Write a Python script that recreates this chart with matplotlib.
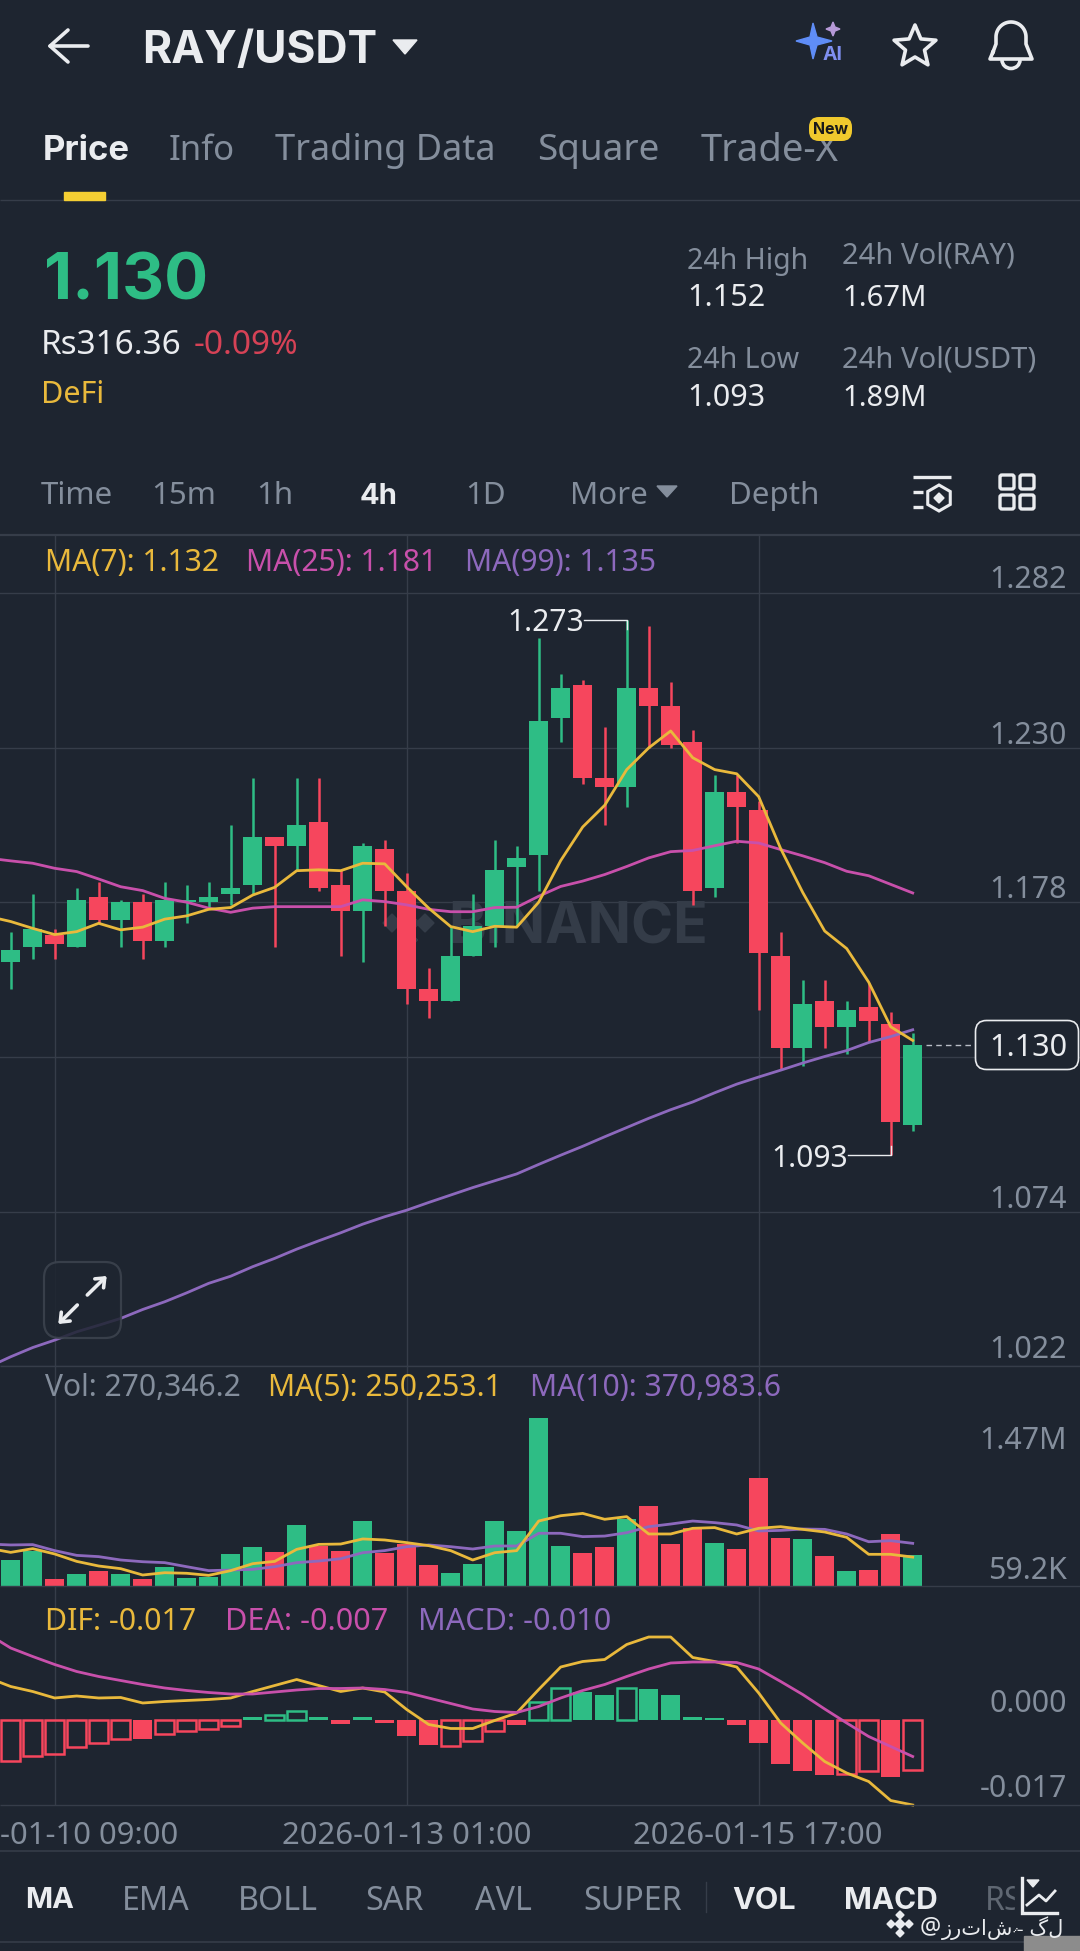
import numpy as np
import matplotlib
matplotlib.use('Agg')
import matplotlib.pyplot as plt
from matplotlib import font_manager, ft2font
from matplotlib.patches import FancyBboxPatch, Polygon, Rectangle, Arc

# Candles, oldest first (4h)
opens = [1.158, 1.163, 1.167, 1.163, 1.180, 1.172, 1.178, 1.165, 1.178, 1.178, 1.181, 1.184, 1.200, 1.197,
         1.205, 1.184, 1.175, 1.196, 1.182, 1.149, 1.145, 1.160, 1.170, 1.190, 1.194, 1.240, 1.251, 1.220,
         1.217, 1.250, 1.244, 1.232, 1.183, 1.215, 1.209, 1.160, 1.129, 1.145, 1.136, 1.143, 1.137, 1.103]
closes = [1.162, 1.169, 1.164, 1.179, 1.172, 1.178, 1.165, 1.179, 1.179, 1.180, 1.183, 1.200, 1.197, 1.204,
          1.183, 1.175, 1.197, 1.182, 1.149, 1.145, 1.160, 1.170, 1.189, 1.193, 1.239, 1.250, 1.220, 1.217,
          1.250, 1.244, 1.231, 1.182, 1.215, 1.210, 1.161, 1.129, 1.144, 1.136, 1.142, 1.138, 1.104, 1.130]
highs = [1.168, 1.181, 1.169, 1.183, 1.185, 1.179, 1.181, 1.185, 1.184, 1.185, 1.204, 1.220, 1.200, 1.220,
         1.220, 1.189, 1.198, 1.199, 1.188, 1.156, 1.170, 1.181, 1.199, 1.197, 1.267, 1.255, 1.253, 1.237,
         1.273, 1.271, 1.252, 1.236, 1.221, 1.221, 1.212, 1.168, 1.152, 1.152, 1.145, 1.151, 1.141, 1.134]
lows = [1.149, 1.159, 1.159, 1.163, 1.171, 1.163, 1.159, 1.163, 1.171, 1.176, 1.177, 1.181, 1.163, 1.189,
        1.182, 1.160, 1.158, 1.170, 1.144, 1.139, 1.145, 1.160, 1.163, 1.170, 1.182, 1.232, 1.218, 1.204,
        1.210, 1.230, 1.230, 1.177, 1.180, 1.198, 1.142, 1.122, 1.123, 1.129, 1.127, 1.131, 1.093, 1.101]

# Moving averages start one bar before the first visible candle
ma7 = [1.1733, 1.1716, 1.1693, 1.1672, 1.1682, 1.1710, 1.1688, 1.1697, 1.1724, 1.1735, 1.1757, 1.1763, 1.1805,
       1.1831, 1.1887, 1.1890, 1.1887, 1.1912, 1.1910, 1.1833, 1.1761, 1.1699, 1.1682, 1.1700, 1.1697, 1.1781,
       1.1921, 1.2034, 1.2107, 1.2227, 1.2300, 1.2357, 1.2267, 1.2227, 1.2213, 1.2136, 1.1961, 1.1814, 1.1684,
       1.1625, 1.1512, 1.1362, 1.1316]
ma25 = [1.1929, 1.1920, 1.1912, 1.1895, 1.1884, 1.1859, 1.1833, 1.1820, 1.1794, 1.1781, 1.1761, 1.1747, 1.1761,
        1.1766, 1.1766, 1.1766, 1.1766, 1.1789, 1.1783, 1.1772, 1.1757, 1.1749, 1.1749, 1.1763, 1.1764, 1.1801,
        1.1834, 1.1852, 1.1874, 1.1901, 1.1930, 1.1951, 1.1955, 1.1971, 1.1986, 1.1980, 1.1958, 1.1937, 1.1914,
        1.1885, 1.1870, 1.1841, 1.1812]
ma99 = [1.0218, 1.0252, 1.0283, 1.0308, 1.0336, 1.0358, 1.0381, 1.0411, 1.0437, 1.0467, 1.0499, 1.0523, 1.0555,
        1.0583, 1.0614, 1.0642, 1.0669, 1.0698, 1.0723, 1.0745, 1.0771, 1.0796, 1.0821, 1.0844, 1.0867, 1.0899,
        1.0930, 1.0960, 1.0992, 1.1023, 1.1054, 1.1083, 1.1109, 1.1140, 1.1169, 1.1193, 1.1216, 1.1240, 1.1262,
        1.1282, 1.1309, 1.1329, 1.1352]

# Volume in thousands
volume = [225, 303, 61, 107, 130, 107, 61, 164, 72, 78, 277, 337, 297, 528, 349, 300, 562, 283, 363, 179, 110,
          193, 565, 479, 1450, 343, 288, 334, 577, 692, 363, 499, 375, 317, 934, 415, 404, 259, 133, 136, 453, 270]
vol_ma5 = [326, 291, 323, 277, 213, 173, 150, 95, 115, 110, 92, 133, 193, 213, 317, 360, 363, 407, 398, 375, 349,
           306, 225, 288, 306, 562, 608, 628, 577, 600, 450, 450, 499, 505, 450, 499, 513, 490, 467, 421, 274, 274, 250]
vol_ma10 = [363, 355, 358, 306, 265, 254, 225, 210, 202, 167, 133, 138, 144, 167, 202, 216, 236, 288, 306, 340, 355,
            340, 320, 346, 346, 456, 456, 427, 432, 461, 513, 536, 562, 548, 528, 476, 481, 493, 490, 450, 383, 392, 369]

# MACD panel
dif = [.0084, .0067, .0057, .0044, .0048, .0044, .0045, .0034, .0037, .0039, .0041, .0044, .0057, .0069, .0081,
       .0069, .0057, .0064, .0056, .0021, -.0009, -.0017, -.0017, -.0001, .0014, .0061, .0106, .0117, .0121, .0151,
       .0166, .0166, .0125, .0117, .0106, .0054, -.0006, -.0046, -.0083, -.0106, -.0123, -.0161, -.0170]
dea = [.0171, .0144, .0127, .0111, .0097, .0087, .0079, .0071, .0064, .0059, .0055, .0052, .0052, .0056, .0060,
       .0063, .0063, .0064, .0061, .0055, .0044, .0033, .0022, .0017, .0015, .0027, .0044, .0059, .0071, .0087,
       .0102, .0114, .0116, .0116, .0115, .0102, .0077, .0051, .0022, -.0006, -.0033, -.0053, -.0073]
macd = [-.0081, -.0071, -.0068, -.0053, -.0046, -.0037, -.0037, -.0028, -.0022, -.0017, -.0012, .0007, .0011, .0019,
        .0007, -.0007, .0007, -.0006, -.0031, -.0049, -.0051, -.0041, -.0021, -.0009, .0037, .0065, .0057, .0051,
        .0065, .0063, .0051, .0007, .0005, -.0009, -.0046, -.0088, -.0101, -.0109, -.0107, -.0102, -.0113, -.0099]
macd_hollow = [0, 1, 2, 3, 4, 5, 7, 8, 9, 10, 12, 13, 20, 21, 22, 24, 25, 28, 38, 39, 41]

price_ticks = [1.282, 1.230, 1.178, 1.126, 1.074, 1.022]
grid_bars = [2, 18, 34]

bg = '#1e2530'
grid = '#363d49'
green = '#2ebd85'
red = '#f6465d'
yellow = '#e9b93c'
pink = '#c850ab'
purple = '#8d69bd'
gray = '#848e9c'
white = '#eaecef'

W, H = 1080, 1951
fig = plt.figure(figsize=(W / 100, H / 100), dpi=100, facecolor=bg)


def panel(top, bottom, zorder=1):
    ax = fig.add_axes([0, 1 - bottom / H, 1, (bottom - top) / H], facecolor='none', zorder=zorder)
    ax.set_xlim(-10.7 / 22, (W - 10.7) / 22)
    ax.axis('off')
    for b in grid_bars:
        ax.axvline(b, color=grid, lw=1, zorder=1)
    return ax


# one bar is 22 px wide, 1 price unit is 2973 px
ax_price = panel(535, 1366)
ax_price.set_ylim(1.282 - (1366 - 593.3) / 2973, 1.282 + (593.3 - 535) / 2973)
ax_vol = panel(1366, 1586)
ax_vol.set_ylim(0, 220 * 8.65)
ax_macd = panel(1586, 1805)
ax_macd.set_ylim(-0.017, 134 / 5000)

ui = fig.add_axes([0, 0, 1, 1], facecolor='none', zorder=5)
ui.set_xlim(0, W)
ui.set_ylim(H, 0)
ui.axis('off')


def txt(x, y, s, size=21.6, color=gray, ha='left', weight='normal', ax=None, **kw):
    # Noto Sans has no bold here, Inter has
    family = ['Inter', 'DejaVu Sans'] if weight == 'bold' else ['Noto Sans', 'DejaVu Sans']
    (ax or ui).text(x, y + 2, s, fontsize=size, color=color, ha=ha, va='center', family=family,
                    weight=weight, transform=ui.transData, **kw)


def hline(y, x0=0, x1=W, color=grid, lw=1.0):
    ui.plot([x0, x1], [y, y], color=color, lw=lw, solid_capstyle='butt')


# ----- price panel -----
idx = np.arange(42)
line_idx = np.arange(-1, 42)
o, c, hi, lo = map(np.array, (opens, closes, highs, lows))
colors = [green if c[i] >= o[i] else red for i in idx]

for p in price_ticks:
    ax_price.axhline(p, color=grid, lw=1, zorder=1)

# watermark sits below the candles
txt(448, 926.5, 'BINANCE', size=41, color='#343c48', weight='bold', ax=ax_price, zorder=1)
for cx, cy, r in [(392, 923, 9), (425, 923, 9), (408.5, 906, 9), (408.5, 940, 9), (408.5, 923, 11)]:
    ax_price.add_patch(Polygon([(cx - r, cy), (cx, cy - r), (cx + r, cy), (cx, cy + r)], color='#343c48',
                               transform=ui.transData, zorder=1))

ax_price.vlines(idx, lo, hi, colors=colors, lw=1.8, zorder=3)
ax_price.bar(idx, np.abs(c - o), bottom=np.minimum(o, c), width=0.89, color=colors, zorder=3)
ax_price.plot(line_idx, ma99, color=purple, lw=2, zorder=4)
ax_price.plot(line_idx, ma25, color=pink, lw=2, zorder=4)
ax_price.plot(line_idx, ma7, color=yellow, lw=2, zorder=5)

# high / low markers
ax_price.plot([28 - 1.95, 28, 28], [1.273, 1.273, 1.270], color=white, lw=1, zorder=6)
ax_price.plot([40 - 1.95, 40, 40], [1.093, 1.093, 1.096], color=white, lw=1, zorder=6)
txt(584, 621, '1.273', color=white, ha='right')
txt(848, 1157, '1.093', color=white, ha='right')

# last price tag
ax_price.plot([41.6, 43.9], [closes[-1], closes[-1]], color='#b9bec6', lw=1, ls=(0, (4, 3)), zorder=6)
ui.add_patch(FancyBboxPatch((979, 1024), 96, 42, boxstyle='round,pad=3.5,rounding_size=11', fc=bg, ec=white, lw=1.2,
                            zorder=3))
txt(1067, 1046, '1.130', size=22, color=white, ha='right', zorder=4)

# expand button
ui.add_patch(FancyBboxPatch((48, 1266), 69, 68, boxstyle='round,pad=4,rounding_size=16', fc=bg, ec='#3d444f', lw=1.6,
                            alpha=0.85))
for x0, y0, x1, y1 in [(87.3, 1295, 106.7, 1276), (77.3, 1305, 58.3, 1324)]:
    ui.annotate('', xy=(x1, y1), xytext=(x0, y0),
                arrowprops=dict(arrowstyle='->,head_length=0.55,head_width=0.45', color=white, lw=2.6, shrinkA=0,
                                shrinkB=0))

# ----- volume panel -----
ax_vol.bar(idx, volume, width=0.89, color=colors, zorder=3)
ax_vol.plot(line_idx, vol_ma10, color=purple, lw=2, zorder=4)
ax_vol.plot(line_idx, vol_ma5, color=yellow, lw=2, zorder=5)

# ----- macd panel -----
for i in idx:
    col = green if macd[i] > 0 else red
    if i in macd_hollow:
        ax_macd.bar(i, macd[i], width=0.87, fc='none', ec=col, lw=1.8, zorder=3)
    else:
        ax_macd.bar(i, macd[i], width=0.89, color=col, zorder=3)
ax_macd.plot(line_idx, dif, color=yellow, lw=2, zorder=4, clip_on=False)
ax_macd.plot(line_idx, dea, color=pink, lw=2, zorder=5)

# ----- panel lines -----
hline(200.5)
hline(535, lw=1.6)
hline(1366)
hline(1586)
hline(1805)
hline(1851, lw=1.2)
hline(1942, x1=1024, lw=1.2)

# ----- axis labels -----
for y, s in [(578.5, '1.282'), (734.5, '1.230'), (888.5, '1.178'), (1197.5, '1.074'), (1348.5, '1.022'),
             (1439, '1.47M'), (1569, '59.2K'), (1702, '0.000'), (1787, '-0.017')]:
    txt(1067, y, s, size=21.8, ha='right')
txt(0, 1833.5, '-01-10 09:00', size=22.3)
txt(407, 1833.5, '2026-01-13 01:00', size=22.3, ha='center')
txt(758, 1833.5, '2026-01-15 17:00', size=22.3, ha='center')

# ----- indicator legends -----
txt(45, 561, 'MA(7): 1.132', color=yellow)
txt(246, 561, 'MA(25): 1.181', color=pink)
txt(465, 561, 'MA(99): 1.135', color=purple)
txt(45, 1386, 'Vol: 270,346.2')
txt(268, 1386, 'MA(5): 250,253.1', color=yellow)
txt(530, 1386, 'MA(10): 370,983.6', color=purple)
txt(45, 1620, 'DIF: -0.017', size=21.8, color=yellow)
txt(225, 1620, 'DEA: -0.007', size=22, color=pink)
txt(418, 1620, 'MACD: -0.010', size=22, color=purple)

# ----- header -----
ui.plot([88, 50, 68], [46, 46, 30], color=white, lw=2.6, solid_capstyle='round', solid_joinstyle='round')
ui.plot([50, 68], [46, 62], color=white, lw=2.6, solid_capstyle='round')
txt(142, 49, 'RAY/USDT', size=32, color=white, weight='bold')
ui.add_patch(Polygon([(393, 40), (417, 40), (405, 54)], color=white))

# AI badge
ui.add_patch(Polygon([(796, 41), (810, 37), (813, 23), (817, 37), (832, 41), (817, 45), (813, 59), (810, 45)],
                     color='#5f8df7'))
ui.add_patch(Polygon([(826, 29), (831, 27), (833, 22), (835, 27), (840, 29), (835, 31), (833, 36), (831, 31)],
                     color='#b79ad8'))
txt(823, 53, 'AI', size=14, color='#7f8ff0', weight='bold')

# favourite star
a = np.pi / 2 + np.arange(10) * np.pi / 5
r = np.where(np.arange(10) % 2 == 0, 22, 10)
ui.add_patch(Polygon(np.c_[915 + r * np.cos(a), 47 - r * np.sin(a)], fc='none', ec=white, lw=2.6, joinstyle='round'))

# bell
t = np.linspace(np.pi, 0, 30)
bx = np.r_[993, 996, 1011 + 15 * np.cos(t), 1026, 1032, 990, 993]
by = np.r_[52, 44, 37 - 15 * np.sin(t), 44, 59, 59, 52]
ui.plot(bx, by, color=white, lw=2.6, solid_joinstyle='round')
ui.add_patch(Arc((1011, 60), 18, 17, theta1=0, theta2=180, color=white, lw=2.6))

# tabs
txt(43, 149, 'Price', size=25, color=white, weight='bold')
for x, s, size in [(169, 'Info', 25), (275, 'Trading Data', 26), (537, 'Square', 26.5), (701, 'Trade-X', 27.5)]:
    txt(x, 149, s, size=size)
ui.add_patch(Rectangle((64, 192), 41, 8, color='#f5cf33', zorder=3))
ui.add_patch(FancyBboxPatch((813, 121), 35, 16, boxstyle='round,pad=4,rounding_size=10', fc='#f0c92d', ec='none',
                            zorder=3))
txt(830.5, 127, 'New', size=11.5, color='#1a1a1a', ha='center', weight='bold', zorder=4)

# price block
txt(44, 280.5, '1.130', size=47, color=green, weight='bold')
txt(41, 344, 'Rs316.36', size=24, color=white)
txt(194, 344, '-0.09%', size=24, color='#d64256')
txt(41, 393, 'DeFi', size=22, color=yellow)
txt(687, 259, '24h High', size=20.5)
txt(687, 296, '1.152', size=22, color=white)
txt(687, 358, '24h Low', size=20.5)
txt(687, 396, '1.093', size=22, color=white)
txt(842, 254, '24h Vol(RAY)', size=21)
txt(842, 296, '1.67M', size=21, color=white)
txt(842, 358, '24h Vol(USDT)', size=21)
txt(842, 396, '1.89M', size=21, color=white)

# interval row
for x, s in [(41, 'Time'), (151, '15m'), (256, '1h'), (465, '1D'), (570, 'More'), (729, 'Depth')]:
    txt(x, 494, s, size=22.5)
txt(360, 494, '4h', size=21, color=white, weight='bold')
ui.add_patch(Polygon([(657, 486), (677, 486), (667, 497)], color=gray))

# indicator settings icon
ui.plot([913, 951], [477, 477], color=white, lw=2.4, solid_capstyle='butt')
ui.plot([913, 923], [492, 492], color=white, lw=2.4, solid_capstyle='butt')
ui.plot([913, 923], [507, 507], color=white, lw=2.4, solid_capstyle='butt')
a = np.pi / 2 + np.arange(6) * np.pi / 3
ui.add_patch(Polygon(np.c_[939 + 13 * np.cos(a), 498 + 13 * np.sin(a)], fc='none', ec=white, lw=2.2))
ui.add_patch(Polygon([(934, 498), (939, 493), (944, 498), (939, 503)], color=white))

# layout icon
for x0 in (1000, 1020):
    for y0 in (475, 495):
        ui.add_patch(FancyBboxPatch((x0 + 1, y0 + 1), 12, 12, boxstyle='round,pad=1,rounding_size=2', fc='none',
                                    ec=white, lw=2.4))

# ----- bottom bar -----
txt(25, 1899, 'MA', size=21, color=white, weight='bold')
for x, s in [(122, 'EMA'), (238, 'BOLL'), (365, 'SAR'), (475, 'AVL'), (583, 'SUPER')]:
    txt(x, 1899, s, size=23.2)
ui.plot([706, 706], [1882, 1912], color=grid, lw=1)
txt(732, 1899, 'VOL', size=22, color=white, weight='bold')
txt(844, 1899, 'MACD', size=21.5, color=white, weight='bold')
txt(985, 1899, 'RSI', size=23, color='#5f6772')
ui.add_patch(Rectangle((1015, 1870), 65, 48, color=bg, zorder=3))
ui.plot([1022, 1022, 1057], [1878, 1913, 1913], color=white, lw=2.4, zorder=4, solid_joinstyle='miter')
ui.plot([1027, 1039, 1046, 1055], [1905, 1895, 1901, 1891], color=white, lw=2, zorder=4)
ui.add_patch(Polygon([(1027, 1880), (1039, 1880), (1033, 1887)], color=white, zorder=4))

# screenshot credit, DejaVu lacks the Urdu heh so look for a font to take that one letter
urdu_fonts = []
for f in font_manager.fontManager.ttflist:
    if f.name not in urdu_fonts and f.name != 'DejaVu Sans' and f.fname.lower().endswith(('.ttf', '.otf')):
        try:
            if 0x06C1 in ft2font.FT2Font(f.fname).get_charmap():
                urdu_fonts.append(f.name)
        except Exception:
            pass
credit = 'زرتاشہ گل' if urdu_fonts else 'زرتاشه گل'

for cx, cy, r in [(891, 1924, 4), (909, 1924, 4), (900, 1915, 4), (900, 1933, 4), (900, 1924, 5)]:
    ui.add_patch(Polygon([(cx - r, cy), (cx, cy - r), (cx + r, cy), (cx, cy + r)], color=white, zorder=4))
txt(920, 1925, '@', size=17, color=white, zorder=4)
ui.text(942, 1928, credit, fontsize=15, color=white, ha='left', va='center', family=['DejaVu Sans'] + urdu_fonts[:1],
        zorder=4)
ui.add_patch(Rectangle((1024, 1936), 56, 15, color='#8c8c8c', zorder=3))

fig.savefig('out.png', dpi=100, facecolor=bg)
